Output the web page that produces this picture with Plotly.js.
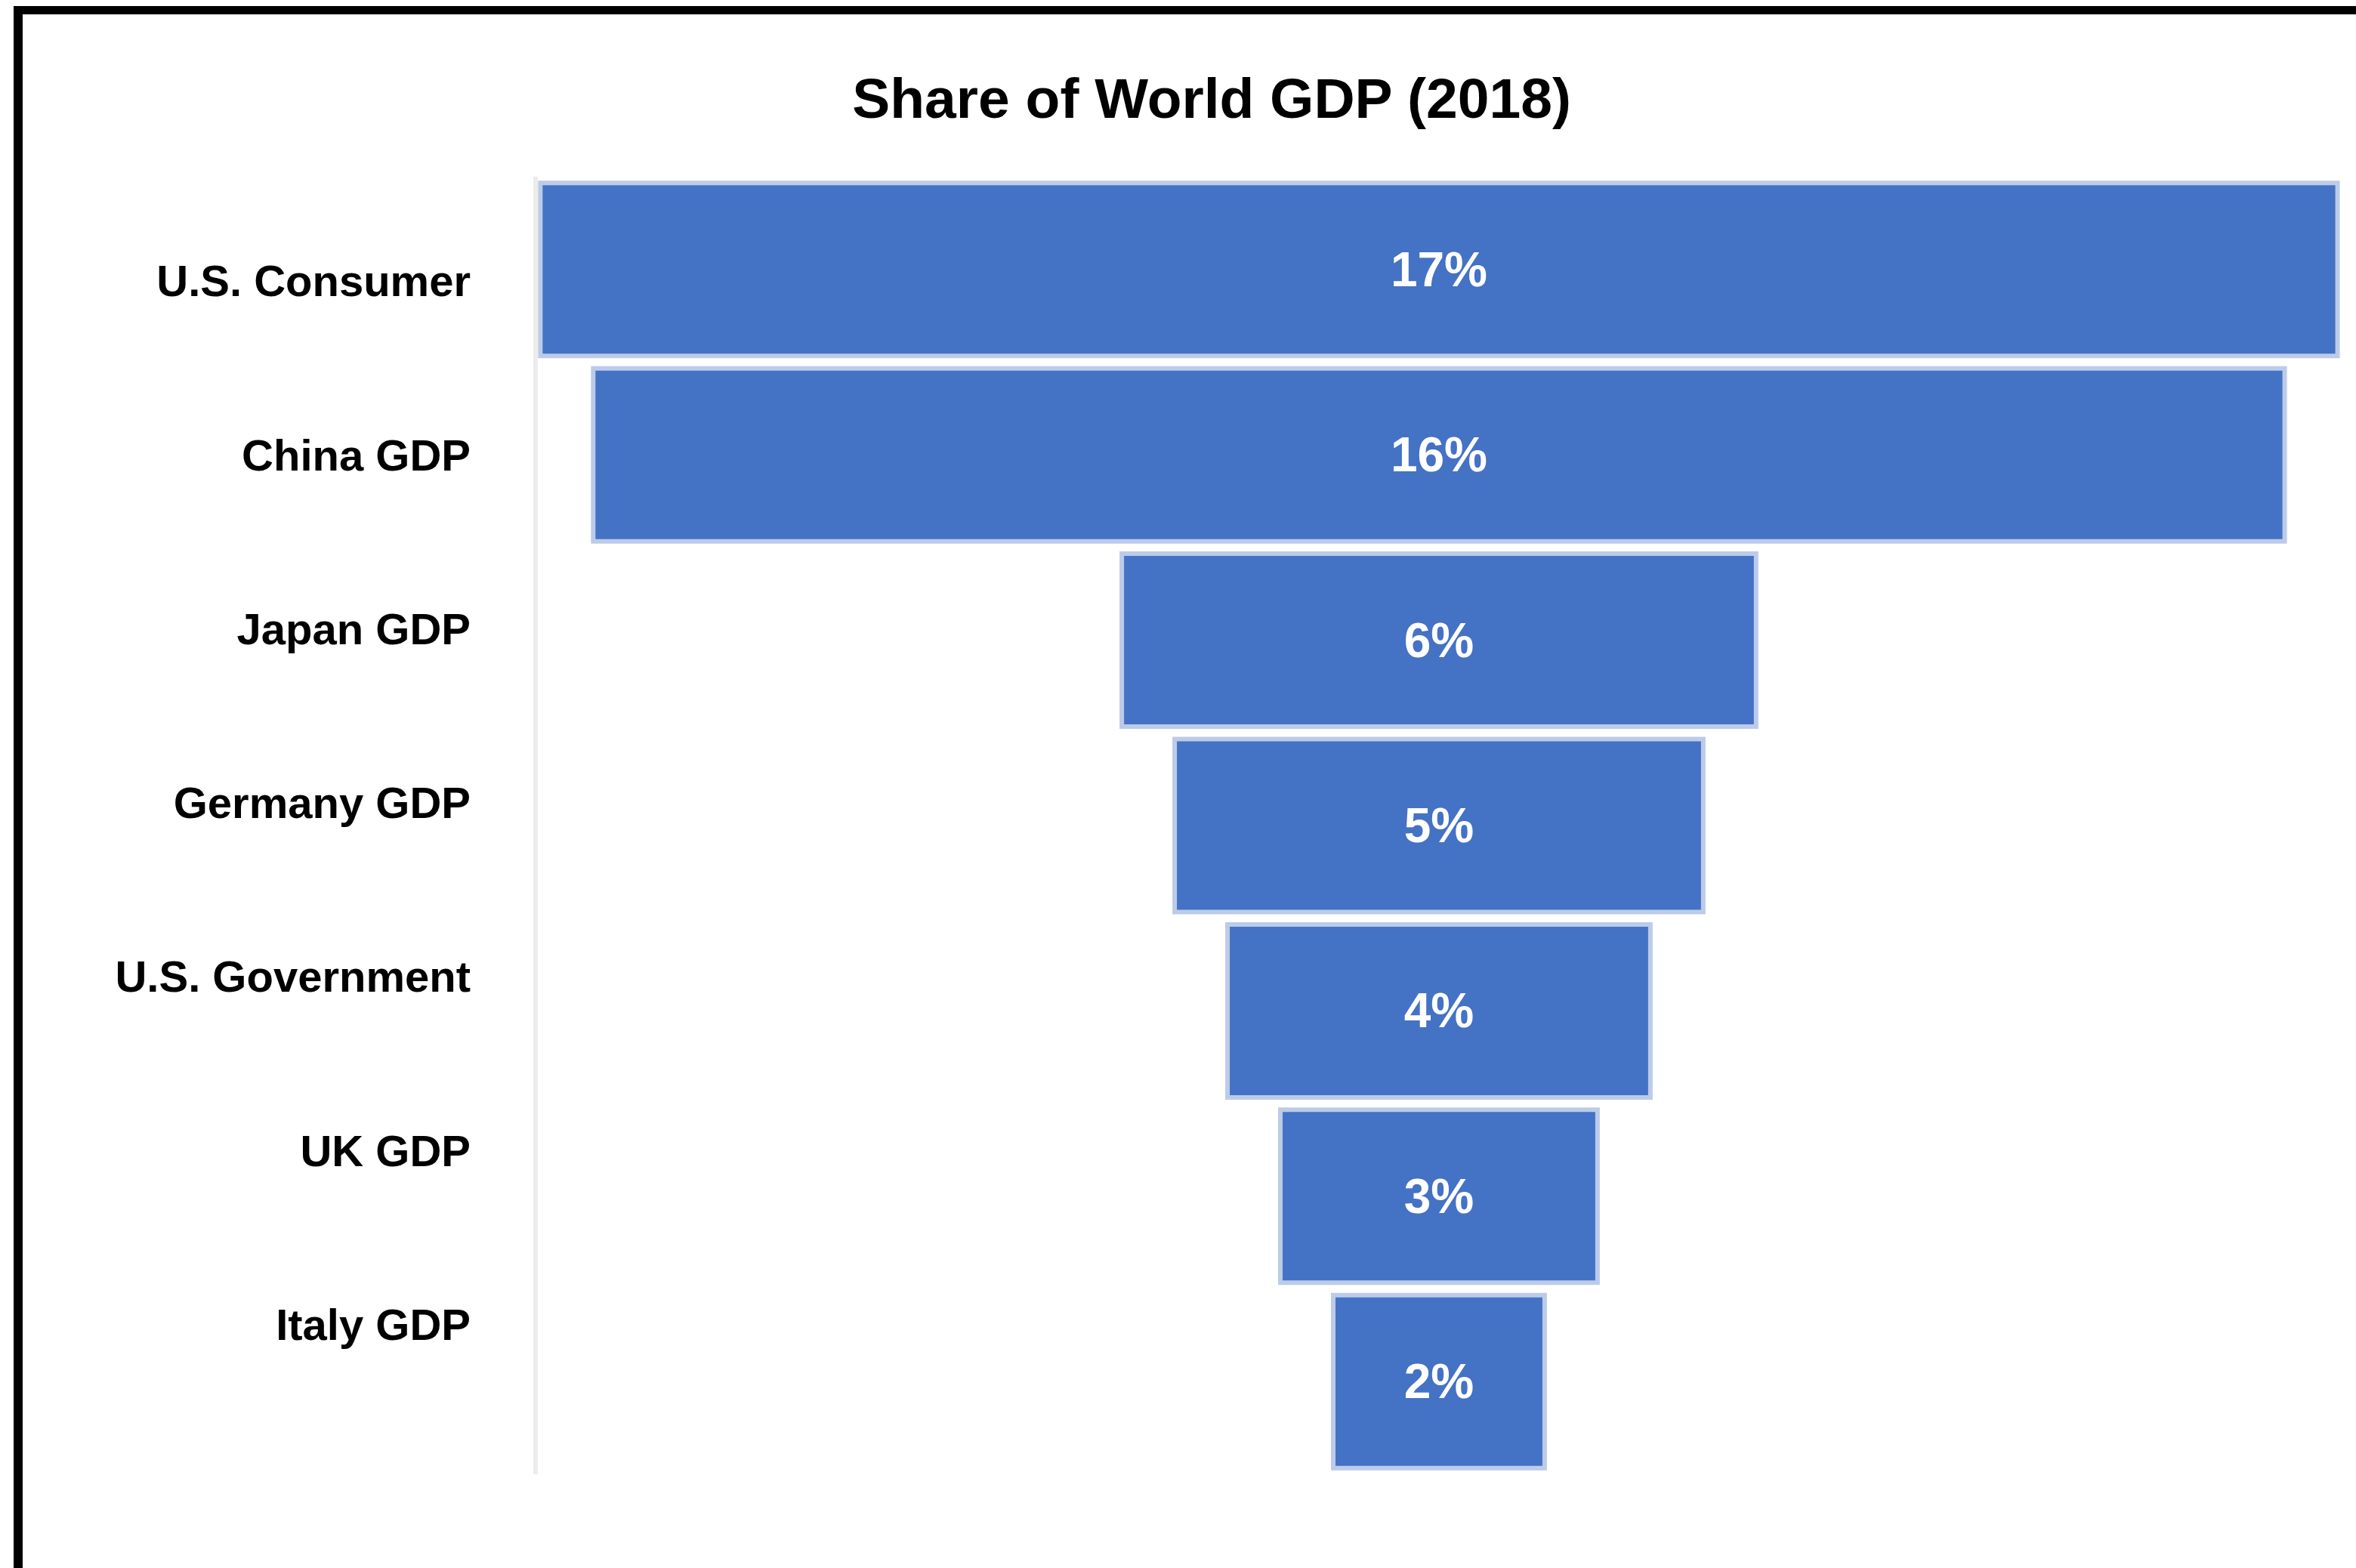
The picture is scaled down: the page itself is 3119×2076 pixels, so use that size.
<!DOCTYPE html>
<html>
<head>
<meta charset="utf-8">
<script src="https://cdn.plot.ly/plotly-3.0.1.min.js"></script>
<style>
  html, body { margin: 0; padding: 0; background: #ffffff; }
  #wrap { position: relative; width: 3119px; height: 2076px; }
  #chart { width: 3119px; height: 2076px; }
  #frame { position: absolute; left: 18px; top: 8px; right: 0; bottom: 0;
           border-top: 11px solid #000; border-left: 12px solid #000; pointer-events: none; }
</style>
</head>
<body>
<div id="wrap">
  <div id="chart"></div>
  <div id="frame"></div>
</div>
<script>
const categories = ["U.S. Consumer", "China GDP", "Japan GDP", "Germany GDP", "U.S. Government", "UK GDP", "Italy GDP"];
const shares = [17, 16, 6, 5, 4, 3, 2];
const chartTitle = "Share of World GDP (2018)";

const FONT = "Liberation Sans, Arial, sans-serif";

const funnel = {
  type: "funnel",
  orientation: "h",
  y: categories,
  x: shares,
  texttemplate: "%{x}%",
  textposition: "inside",
  insidetextanchor: "middle",
  textfont: { family: FONT, size: 64, color: "#ffffff", weight: "bold" },
  marker: { color: "#4472C4", line: { color: "#BCCBE8", width: 6 } },
  connector: { visible: false },
  hoverinfo: "skip",
  cliponaxis: false
};

// invisible helper trace that carries the category labels on their own axis
const labelTrace = {
  type: "scatter",
  mode: "markers",
  x: shares,
  y: categories,
  yaxis: "y2",
  marker: { opacity: 0 },
  hoverinfo: "skip",
  showlegend: false
};

const layout = {
  width: 3119,
  height: 2076,
  paper_bgcolor: "#ffffff",
  plot_bgcolor: "#ffffff",
  showlegend: false,
  margin: { l: 712, r: 11, t: 234, b: 124, pad: 0 },
  title: {
    text: chartTitle,
    font: { family: FONT, size: 75, color: "#000000", weight: "bold" },
    xref: "container", x: 0.5143, xanchor: "center",
    yref: "container", y: 0.9374, yanchor: "middle"
  },
  xaxis: {
    range: [-8.524, 8.596],
    showgrid: false, zeroline: false, showticklabels: false, showline: false,
    fixedrange: true
  },
  yaxis: {
    type: "category",
    categoryorder: "array",
    categoryarray: categories,
    range: [6.5, -0.5],
    showgrid: false, zeroline: false, showticklabels: false,
    showline: true, linecolor: "#ececec", linewidth: 6,
    ticks: ""
  },
  yaxis2: {
    type: "category",
    categoryorder: "array",
    categoryarray: categories,
    overlaying: "y",
    anchor: "x",
    side: "left",
    range: [6.861, -0.599],
    showgrid: false, zeroline: false, showline: false,
    ticks: "",
    ticklabelstandoff: 88,
    tickfont: { family: FONT, size: 58, color: "#000000", weight: "bold" }
  },
  funnelgap: 0.067
};

Plotly.newPlot("chart", [funnel, labelTrace], layout, { displayModeBar: false, staticPlot: true });
</script>
</body>
</html>
